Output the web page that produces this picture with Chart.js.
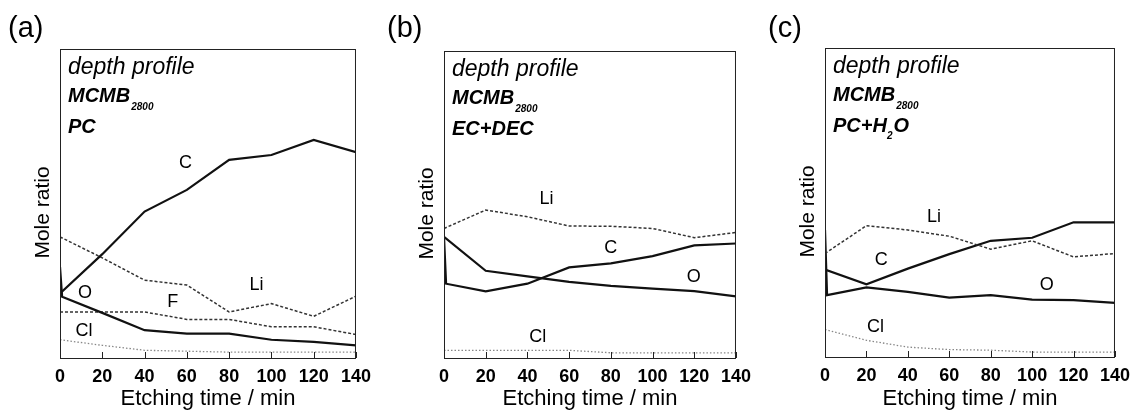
<!DOCTYPE html>
<html>
<head>
<meta charset="utf-8">
<script src="https://cdn.jsdelivr.net/npm/chart.js@4"></script>
<style>
  body { margin: 0; background: #fff; width: 1138px; height: 419px; position: relative; overflow: hidden; }
  canvas { position: absolute; top: 0; }
</style>
</head>
<body>
<canvas id="chartA" width="379" height="419" style="left:0px"></canvas>
<canvas id="chartB" width="380" height="419" style="left:379px"></canvas>
<canvas id="chartC" width="379" height="419" style="left:759px"></canvas>
<script>
// etching times (min); "Spike" series have an extra point near t=0
const times = [0, 20, 40, 60, 80, 100, 120, 140];
const timesSpike = [0, 1, 20, 40, 60, 80, 100, 120, 140];
const xTicks = [0, 20, 40, 60, 80, 100, 120, 140];

// (a) MCMB2800 in PC
const aC  = [20.9, 33.6, 47.4, 54.4, 64.1, 65.7, 70.6, 66.6];
const aO  = [29.5, 19.8, 14.6, 9.0, 7.9, 7.9, 5.9, 5.2, 4.1];
const aLi = [39.2, 32.4, 25.2, 23.6, 14.9, 17.6, 13.5, 20.0];
const aF  = [14.9, 14.9, 14.9, 12.5, 12.5, 10.1, 10.1, 7.6];
const aCl = [5.9, 4.1, 2.5, 2.2, 1.9, 1.9, 1.9, 1.9];

// (b) MCMB2800 in EC+DEC
const bLi = [42.2, 48.2, 46.0, 43.0, 42.9, 42.2, 39.2, 40.9];
const bO  = [39.5, 28.4, 26.6, 24.8, 23.5, 22.6, 21.8, 20.1];
const bC  = [39.5, 24.2, 21.7, 24.2, 29.5, 30.8, 33.2, 36.7, 37.3];
const bCl = [2.5, 2.5, 2.5, 2.5, 1.7, 1.7, 1.7, 1.7];

// (c) MCMB2800 in PC+H2O
const cLi = [33.5, 42.5, 41.1, 39.1, 34.9, 37.6, 32.4, 33.5];
const cC  = [28.3, 23.5, 28.6, 33.3, 37.6, 38.6, 43.6, 43.6];
const cO  = [41.1, 20.0, 22.5, 21.1, 19.2, 20.0, 18.6, 18.4, 17.5];
const cCl = [8.9, 5.4, 3.2, 2.4, 2.2, 1.6, 1.6, 1.6];

const FONT = "'Liberation Sans', Arial, sans-serif";
const solid  = { borderColor: '#111', borderWidth: 2.2 };
const dashed = { borderColor: '#333', borderWidth: 1.5, borderDash: [3, 2] };
const dotted = { borderColor: '#888', borderWidth: 1.3, borderDash: [1.5, 2] };

function series(t, vals, style) {
  return Object.assign({
    data: t.map((x, i) => ({ x: x, y: vals[i] })),
    pointRadius: 0, tension: 0, fill: false
  }, style);
}

// frame, inward ticks and all text annotations
const notesPlugin = {
  id: 'notes',
  afterDraw(chart, args, o) {
    const ctx = chart.ctx;
    const a = chart.chartArea;
    const xs = chart.scales.x, ys = chart.scales.y;
    ctx.save();
    ctx.strokeStyle = '#222';
    ctx.lineWidth = 1;
    ctx.strokeRect(a.left + 0.5, a.top + 0.5, a.right - a.left - 1, a.bottom - a.top);
    ctx.beginPath();
    xTicks.forEach(v => {
      const px = Math.round(xs.getPixelForValue(v)) + 0.5;
      ctx.moveTo(px, a.bottom);
      ctx.lineTo(px, a.bottom - 6);
    });
    ctx.stroke();

    ctx.fillStyle = '#000';
    ctx.textBaseline = 'alphabetic';
    // panel letter
    ctx.textAlign = 'left';
    ctx.font = '29px ' + FONT;
    ctx.fillText(o.letter, o.letterX, 37);

    // sample description
    const lx = a.left + 8;
    ctx.font = 'italic 23px ' + FONT;
    ctx.fillText('depth profile', lx, a.top + 25);
    ctx.font = 'italic bold 20px ' + FONT;
    ctx.fillText('MCMB', lx, a.top + 53);
    let w = ctx.measureText('MCMB').width;
    ctx.font = 'italic bold 10px ' + FONT;
    ctx.fillText('2800', lx + w + 1, a.top + 61);
    let x = lx;
    o.solvent.forEach(p => {
      ctx.font = p.sub ? 'italic bold 10px ' + FONT : 'italic bold 20px ' + FONT;
      ctx.fillText(p.t, x, a.top + (p.sub ? 91 : 84));
      x += ctx.measureText(p.t).width + (p.sub ? 1 : 0);
    });

    // element labels
    ctx.font = '18px ' + FONT;
    ctx.textAlign = 'center';
    ctx.textBaseline = 'middle';
    o.labels.forEach(l => {
      ctx.fillText(l.t, xs.getPixelForValue(l.x), ys.getPixelForValue(l.y));
    });

    // axis titles
    ctx.font = '22px ' + FONT;
    ctx.textBaseline = 'alphabetic';
    ctx.fillText('Etching time / min', (a.left + a.right) / 2, 405);
    ctx.translate(a.left - 17, (a.top + a.bottom) / 2 + 9);
    ctx.rotate(-Math.PI / 2);
    ctx.font = '21px ' + FONT;
    ctx.textBaseline = 'middle';
    ctx.fillText('Mole ratio', 0, 0);
    ctx.restore();
  }
};

function makeChart(id, datasets, pad, notes) {
  return new Chart(document.getElementById(id), {
    type: 'line',
    data: { datasets: datasets },
    options: {
      responsive: false,
      animation: false,
      layout: { padding: { left: pad.left, top: pad.top, right: pad.right, bottom: 0 } },
      plugins: { legend: { display: false }, tooltip: { enabled: false }, notes: notes },
      scales: {
        x: {
          type: 'linear', min: 0, max: 140,
          ticks: {
            stepSize: 20, maxRotation: 0, autoSkip: false, padding: 8, color: '#000',
            font: { family: "'Liberation Sans Narrow', 'Liberation Sans', sans-serif", size: 18, weight: 'bold' }
          },
          grid: { display: false, drawTicks: false },
          border: { display: false },
          afterFit: s => { s.height = 419 - pad.bottom; }
        },
        y: { display: false, min: 0, max: 100 }
      }
    },
    plugins: [notesPlugin]
  });
}

makeChart('chartA', [
  series(times, aC, solid),
  series(timesSpike, aO, solid),
  series(times, aLi, dashed),
  series(times, aF, dashed),
  series(times, aCl, dotted)
], { left: 60, top: 49, right: 22, bottom: 358 }, {
  letter: '(a)', letterX: 8,
  solvent: [{ t: 'PC' }],
  labels: [
    { t: 'C', x: 59.4, y: 63.1 }, { t: 'Li', x: 92.9, y: 23.6 }, { t: 'O', x: 11.8, y: 21.0 },
    { t: 'F', x: 53.3, y: 18.1 }, { t: 'Cl', x: 11.3, y: 8.7 }
  ]
});

makeChart('chartB', [
  series(times, bLi, dashed),
  series(times, bO, solid),
  series(timesSpike, bC, solid),
  series(times, bCl, dotted)
], { left: 65, top: 51, right: 19, bottom: 358 }, {
  letter: '(b)', letterX: 8,
  solvent: [{ t: 'EC+DEC' }],
  labels: [
    { t: 'Li', x: 49.2, y: 51.8 }, { t: 'C', x: 79.9, y: 35.8 },
    { t: 'O', x: 119.7, y: 26.4 }, { t: 'Cl', x: 44.9, y: 6.8 }
  ]
});

makeChart('chartC', [
  series(times, cLi, dashed),
  series(times, cC, solid),
  series(timesSpike, cO, solid),
  series(times, cCl, dotted)
], { left: 66, top: 48, right: 15, bottom: 357 }, {
  letter: '(c)', letterX: 9,
  solvent: [{ t: 'PC+H' }, { t: '2', sub: true }, { t: 'O' }],
  labels: [
    { t: 'Li', x: 52.6, y: 45.3 }, { t: 'C', x: 27.2, y: 31.4 },
    { t: 'O', x: 107.1, y: 23.3 }, { t: 'Cl', x: 24.4, y: 9.7 }
  ]
});
</script>
</body>
</html>
